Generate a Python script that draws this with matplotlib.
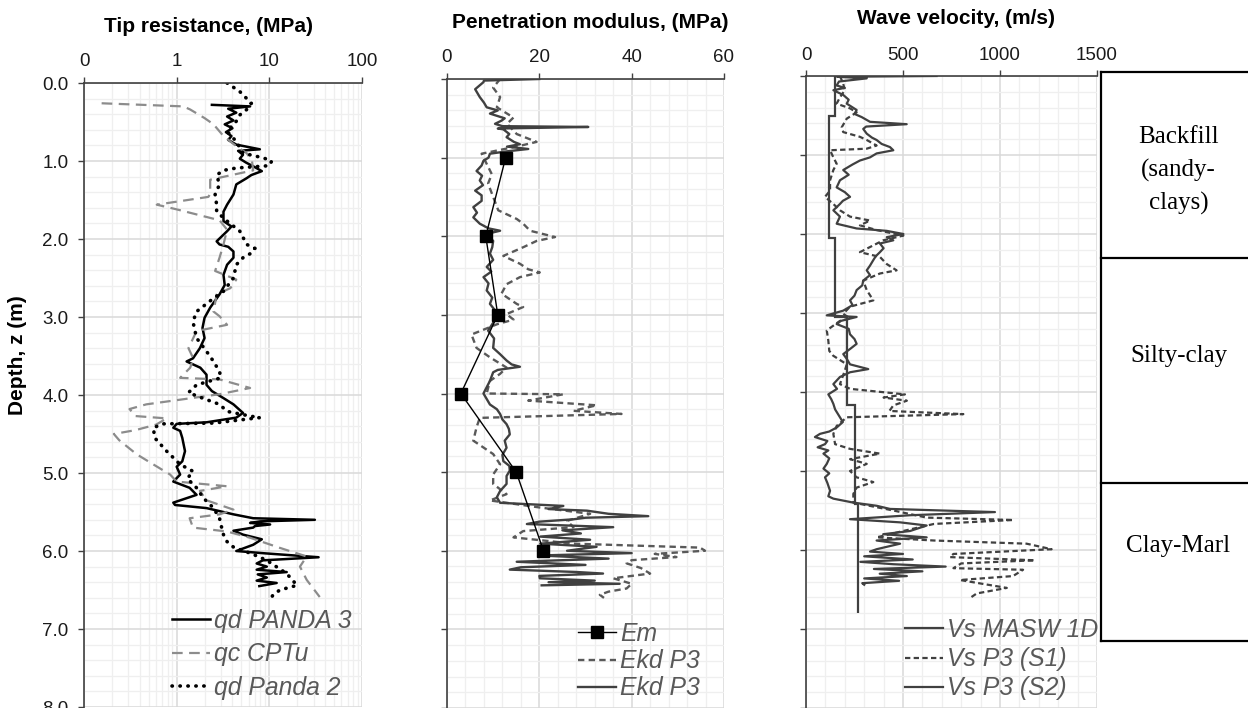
import numpy as np
import matplotlib
matplotlib.use('Agg')
import matplotlib.pyplot as plt
from matplotlib.ticker import MultipleLocator, NullFormatter

plt.rcParams['font.family'] = ['Liberation Sans', 'DejaVu Sans']

W, H = 1248, 708

# ---- Tip resistance (MPa), log scale ----
p3_z = [0.28, 0.30, 0.33, 0.38, 0.43, 0.48, 0.53, 0.58, 0.63, 0.68, 0.73, 0.79, 0.85, 0.87,
        0.92, 0.97, 1.02, 1.08, 1.13, 1.18, 1.22, 1.30, 1.43, 1.56, 1.65, 1.77, 1.84, 1.90,
        2.03, 2.07, 2.10, 2.16, 2.24, 2.33, 2.46, 2.59, 2.71, 2.88, 3.01, 3.14, 3.27, 3.40,
        3.53, 3.57, 3.65, 3.74, 3.87, 3.95, 4.04, 4.12, 4.23, 4.29, 4.35, 4.37, 4.42, 4.46,
        4.55, 4.72, 4.85, 4.92, 5.02, 5.11, 5.19, 5.28, 5.38, 5.41, 5.45, 5.53, 5.58, 5.60,
        5.62, 5.64, 5.66, 5.68, 5.70, 5.74, 5.79, 5.85, 5.92, 6.00, 6.03, 6.08, 6.12, 6.16,
        6.20, 6.24, 6.27, 6.30, 6.34, 6.38, 6.41, 6.45]
p3_qd = [2.4, 6.2, 3.6, 4.4, 3.5, 4.1, 3.3, 4.0, 3.4, 3.9, 3.6, 4.4, 7.9, 4.6,
         5.2, 4.8, 5.6, 7.0, 8.3, 6.4, 5.7, 4.4, 4.1, 3.5, 3.2, 3.2, 3.9, 3.5,
         2.7, 2.9, 3.6, 4.1, 4.1, 3.5, 3.2, 3.3, 2.9, 2.3, 2.0, 1.9, 2.0, 1.78,
         1.5, 1.28, 1.8, 2.1, 2.1, 2.4, 3.2, 4.1, 5.2, 4.4, 2.1, 1.0, 0.92, 1.09,
         1.15, 1.23, 1.15, 1.0, 1.09, 0.92, 1.38, 1.64, 0.92, 0.96, 2.1, 4.1, 6.7, 31.0,
         8.0, 6.2, 10.2, 7.0, 6.7, 4.1, 5.2, 8.3, 6.7, 4.4, 9.0, 34.0, 8.5, 7.3,
         9.4, 7.3, 15.4, 7.5, 9.4, 7.3, 12.0, 7.8]

cpt_z = [0.26, 0.30, 0.34, 0.45, 0.53, 0.68, 0.81, 0.90, 1.00, 1.12, 1.24, 1.42, 1.46, 1.56,
         1.62, 1.76, 1.88, 2.07, 2.24, 2.41, 2.52, 2.63, 2.71, 2.93, 2.99, 3.10, 3.18, 3.40,
         3.53, 3.65, 3.78, 3.80, 3.91, 3.99, 4.06, 4.12, 4.18, 4.27, 4.30, 4.38, 4.45, 4.50,
         4.58, 4.76, 4.89, 5.02, 5.11, 5.17, 5.23, 5.35, 5.47, 5.53, 5.58, 5.70, 5.75, 5.83,
         5.96, 6.07, 6.20, 6.37, 6.59]
cpt_qc = [0.155, 1.18, 1.40, 2.0, 2.5, 3.2, 4.4, 5.7, 6.5, 6.7, 2.3, 2.3, 2.2, 0.61,
          1.0, 2.9, 3.5, 3.2, 2.9, 2.6, 4.4, 3.8, 2.7, 2.5, 2.9, 3.5, 1.64, 1.34,
          1.51, 1.4, 1.09, 2.9, 6.2, 2.9, 1.09, 0.47, 0.31, 0.36, 0.78, 0.6, 0.36, 0.21,
          0.24, 0.37, 0.56, 0.85, 1.0, 3.5, 1.78, 2.1, 4.1, 2.9, 1.38, 1.5, 3.5, 6.2,
          13.0, 25.3, 21.4, 25.3, 35.0]

p2_z = [0.00, 0.11, 0.26, 0.34, 0.41, 0.49, 0.62, 0.75, 0.90, 0.96, 1.00, 1.06, 1.09, 1.12,
        1.18, 1.30, 1.43, 1.56, 1.65, 1.77, 1.90, 2.07, 2.12, 2.18, 2.24, 2.33, 2.50, 2.67,
        2.76, 2.93, 3.06, 3.14, 3.27, 3.44, 3.57, 3.70, 3.78, 3.87, 3.97, 4.04, 4.12, 4.21,
        4.27, 4.29, 4.36, 4.37, 4.42, 4.55, 4.72, 4.89, 4.98, 5.07, 5.19, 5.32, 5.45, 5.58,
        5.66, 5.79, 5.88, 5.95, 6.04, 6.12, 6.29, 6.44, 6.50, 6.56, 6.60]
p2_qd = [3.5, 4.8, 6.4, 5.7, 4.8, 4.4, 3.5, 4.4, 5.2, 8.6, 10.6, 10.0, 4.4, 3.2,
         2.7, 2.9, 2.6, 2.7, 2.7, 3.5, 4.8, 5.7, 7.0, 6.4, 5.2, 4.4, 4.1, 3.2,
         2.5, 1.64, 1.5, 1.55, 1.64, 2.1, 2.5, 2.9, 3.0, 1.64, 1.34, 1.9, 2.9, 3.5,
         6.2, 7.9, 2.5, 0.71, 0.56, 0.58, 0.78, 1.09, 1.51, 1.3, 1.64, 1.94, 2.5, 2.9,
         3.0, 3.2, 3.5, 4.1, 6.6, 9.4, 15.4, 19.9, 13.0, 11.0, 10.5]

# ---- Penetration modulus (MPa) ----
em_z = [1, 2, 3, 4, 5, 6]
em_val = [12.7, 8.4, 11.0, 3.0, 15.0, 20.9]

ekd_d_z = [0.00, 0.11, 0.23, 0.36, 0.49, 0.57, 0.70, 0.80, 0.85, 0.95, 1.08, 1.21, 1.33, 1.50,
           1.67, 1.78, 1.84, 1.93, 2.01, 2.06, 2.14, 2.25, 2.35, 2.42, 2.46, 2.52, 2.61, 2.73,
           2.86, 2.90, 2.99, 3.06, 3.12, 3.25, 3.42, 3.54, 3.67, 3.75, 3.84, 4.00, 4.01, 4.09,
           4.15, 4.22, 4.26, 4.31, 4.43, 4.60, 4.77, 4.90, 5.03, 5.15, 5.28, 5.36, 5.45, 5.53,
           5.62, 5.70, 5.75, 5.83, 5.91, 5.96, 6.00, 6.04, 6.08, 6.12, 6.16, 6.22, 6.29, 6.35,
           6.42, 6.48, 6.52, 6.56, 6.60]
ekd_d = [11.5, 10.0, 11.5, 10.8, 14.4, 13.0, 15.1, 19.4, 15.8, 7.5, 8.6, 9.7, 8.9, 10.0,
         11.1, 15.1, 16.5, 18.0, 23.4, 19.4, 16.5, 12.2, 15.8, 17.6, 20.1, 15.8, 12.9, 11.8,
         15.1, 16.5, 12.9, 14.4, 10.8, 5.3, 6.4, 9.3, 12.9, 11.5, 9.3, 8.6, 25.2, 17.6,
         32.4, 27.4, 37.8, 7.1, 6.4, 5.7, 10.0, 11.5, 10.0, 10.0, 12.9, 9.3, 20.1, 31.0,
         26.0, 27.4, 16.5, 14.4, 27.4, 54.8, 55.9, 45.0, 49.7, 40.0, 38.9, 42.0, 44.0, 36.0,
         40.0, 38.9, 35.0, 33.1, 34.0]

ekd_s_z = [0.00, 0.02, 0.04, 0.13, 0.23, 0.30, 0.36, 0.40, 0.44, 0.50, 0.53, 0.57, 0.60, 0.61,
           0.63, 0.64, 0.70, 0.74, 0.80, 0.83, 0.86, 0.89, 0.92, 0.95, 1.00, 1.04, 1.10, 1.17,
           1.23, 1.29, 1.35, 1.42, 1.48, 1.55, 1.63, 1.70, 1.76, 1.84, 1.90, 1.93, 1.97, 2.06,
           2.14, 2.22, 2.30, 2.39, 2.45, 2.52, 2.60, 2.69, 2.78, 2.86, 2.95, 3.03, 3.10, 3.20,
           3.30, 3.42, 3.50, 3.58, 3.63, 3.66, 3.70, 3.73, 3.84, 3.92, 4.00, 4.07, 4.14, 4.20,
           4.26, 4.33, 4.39, 4.45, 4.52, 4.60, 4.69, 4.78, 4.86, 4.92, 4.98, 5.05, 5.15, 5.24,
           5.32, 5.39, 5.43, 5.47, 5.49, 5.53, 5.56, 5.58, 5.60, 5.63, 5.66, 5.70, 5.74, 5.78,
           5.82, 5.86, 5.91, 5.95, 6.00, 6.03, 6.06, 6.10, 6.14, 6.18, 6.21, 6.24, 6.27, 6.29,
           6.32, 6.35, 6.38, 6.40, 6.42, 6.44]
ekd_s = [20.0, 8.0, 7.9, 6.1, 7.1, 8.0, 8.6, 11.0, 9.3, 12.5, 11.8, 10.4, 12.0, 30.6,
         11.0, 12.2, 13.5, 12.9, 14.5, 15.8, 13.0, 17.6, 13.0, 9.3, 9.0, 7.9, 7.5, 6.4,
         7.6, 7.1, 7.8, 6.1, 7.5, 7.5, 5.7, 6.5, 5.7, 7.1, 9.0, 11.5, 8.6, 10.0,
         9.8, 9.3, 10.0, 8.6, 9.6, 7.9, 9.0, 8.6, 9.8, 9.3, 10.5, 10.8, 10.0, 8.9,
         10.2, 10.0, 11.5, 12.9, 14.0, 15.8, 11.0, 10.0, 9.3, 8.6, 7.9, 8.6, 9.3, 10.8,
         11.5, 12.0, 12.9, 13.4, 13.6, 12.5, 12.9, 12.0, 12.2, 13.5, 13.6, 12.9, 12.9, 11.5,
         10.8, 11.5, 25.2, 22.0, 30.3, 35.0, 43.6, 30.0, 27.4, 20.0, 17.3, 36.0, 25.0, 29.0,
         20.2, 31.0, 20.2, 32.4, 26.0, 40.0, 20.0, 35.0, 15.1, 30.0, 16.0, 13.6, 28.0, 33.8,
         20.0, 20.1, 32.0, 22.0, 37.4, 20.5]

# ---- Wave velocity (m/s) ----
masw_edges = [0.0, 0.5, 2.05, 3.05, 4.17, 5.42, 6.8]
masw_vs = [150, 120, 150, 210, 250, 270]

s1_z = [0.00, 0.10, 0.18, 0.27, 0.35, 0.41, 0.46, 0.54, 0.65, 0.71, 0.77, 0.81, 0.88, 0.92,
        0.94, 1.03, 1.11, 1.19, 1.32, 1.45, 1.53, 1.62, 1.70, 1.78, 1.83, 1.89, 1.95, 2.02,
        2.08, 2.23, 2.29, 2.38, 2.46, 2.50, 2.59, 2.71, 2.84, 2.92, 3.01, 3.07, 3.10, 3.22,
        3.35, 3.48, 3.54, 3.65, 3.73, 3.90, 3.96, 4.03, 4.07, 4.11, 4.17, 4.24, 4.28, 4.32,
        4.43, 4.53, 4.66, 4.72, 4.78, 4.85, 4.91, 5.00, 5.08, 5.14, 5.21, 5.29, 5.40, 5.50,
        5.59, 5.62, 5.67, 5.76, 5.84, 5.88, 5.92, 5.99, 6.05, 6.09, 6.13, 6.17, 6.23, 6.25,
        6.33, 6.38, 6.48, 6.55, 6.60]
s1_vs = [175, 192, 200, 175, 158, 227, 261, 210, 184, 192, 278, 313, 364, 313,
         124, 141, 158, 141, 124, 124, 98, 141, 175, 227, 330, 278, 364, 502,
         398, 278, 381, 416, 467, 381, 295, 313, 347, 227, 192, 227, 175, 107,
         115, 120, 140, 210, 200, 175, 227, 510, 400, 520, 450, 430, 811, 210,
         158, 141, 150, 227, 381, 227, 313, 227, 261, 347, 261, 244, 244, 450,
         622, 1069, 660, 500, 364, 660, 1137, 1266, 760, 742, 1180, 800, 760, 1119,
         1067, 794, 1035, 880, 850]

s2_z = [0.00, 0.01, 0.03, 0.07, 0.12, 0.15, 0.18, 0.24, 0.30, 0.35, 0.43, 0.48, 0.52, 0.58,
        0.61, 0.64, 0.67, 0.73, 0.78, 0.81, 0.86, 0.90, 0.94, 0.98, 1.03, 1.07, 1.12, 1.19,
        1.25, 1.32, 1.41, 1.47, 1.53, 1.58, 1.62, 1.70, 1.78, 1.87, 1.93, 1.96, 2.00, 2.04,
        2.08, 2.12, 2.18, 2.23, 2.28, 2.33, 2.40, 2.46, 2.52, 2.59, 2.65, 2.71, 2.78, 2.84,
        2.90, 2.97, 3.03, 3.05, 3.10, 3.14, 3.20, 3.27, 3.33, 3.39, 3.45, 3.52, 3.58, 3.65,
        3.71, 3.75, 3.81, 3.90, 3.96, 4.03, 4.09, 4.15, 4.22, 4.32, 4.38, 4.45, 4.50, 4.53,
        4.57, 4.62, 4.66, 4.70, 4.74, 4.78, 4.84, 4.91, 4.97, 5.03, 5.08, 5.15, 5.25, 5.32,
        5.35, 5.40, 5.44, 5.48, 5.52, 5.56, 5.61, 5.65, 5.69, 5.76, 5.80, 5.84, 5.88, 5.92,
        5.99, 6.02, 6.05, 6.08, 6.12, 6.15, 6.18, 6.21, 6.24, 6.27, 6.30, 6.33, 6.36, 6.39,
        6.42, 6.44]
s2_vs = [673, 160, 313, 170, 158, 200, 141, 192, 220, 210, 261, 250, 287, 330,
         519, 310, 295, 313, 340, 364, 390, 433, 450, 364, 330, 278, 240, 192,
         220, 175, 158, 200, 227, 190, 175, 141, 175, 158, 261, 416, 502, 416,
         450, 381, 400, 381, 360, 347, 330, 313, 330, 295, 290, 261, 250, 227,
         240, 192, 107, 261, 180, 158, 220, 227, 250, 261, 230, 192, 210, 227,
         321, 227, 175, 141, 160, 115, 130, 141, 150, 175, 190, 158, 120, 72,
         46, 110, 98, 60, 115, 90, 120, 107, 90, 120, 98, 110, 124, 115,
         141, 244, 364, 433, 974, 536, 227, 485, 622, 536, 398, 622, 364, 485,
         364, 330, 500, 300, 550, 280, 450, 720, 350, 600, 380, 520, 300, 480,
         290, 300]

# ---- soil layers ----
layer_edges = [-0.05, 2.3, 5.15, 7.15]
layer_names = ['Backfill\n(sandy-\nclays)', 'Silty-clay', 'Clay-Marl']
layer_text_z = [1.2, 3.55, 5.95]


def box(l, t, r, b):
    return [l / W, 1 - b / H, (r - l) / W, (b - t) / H]


def style(ax):
    ax.set_ylim(8, 0)
    ax.yaxis.set_major_locator(MultipleLocator(1))
    ax.yaxis.set_minor_locator(MultipleLocator(0.2))
    ax.yaxis.set_major_formatter('{x:.1f}')
    ax.xaxis.tick_top()
    for s in ['right', 'bottom']:
        ax.spines[s].set_visible(False)
    for s in ['top', 'left']:
        ax.spines[s].set_color('#404040')
        ax.spines[s].set_linewidth(1.2)
    ax.grid(which='major', color='#d9d9d9', lw=1.1)
    ax.grid(which='minor', color='#efefef', lw=0.9)
    ax.set_axisbelow(True)
    ax.tick_params(which='major', direction='out', length=4, width=1,
                   color='#404040', labelsize=13.5, pad=5, labelcolor='#1a1a1a')
    ax.tick_params(which='minor', length=0)


fig = plt.figure(figsize=(W / 100, H / 100), dpi=100)

# panel 1
ax1 = fig.add_axes(box(84, 83, 362, 707))
style(ax1)
ax1.set_xscale('log')
ax1.set_xlim(0.1, 100)
ax1.set_xticks([0.1, 1, 10, 100])
ax1.set_xticklabels(['0', '1', '10', '100'])
ax1.xaxis.set_minor_formatter(NullFormatter())
ax1.yaxis.set_major_formatter('{x:.1f}')
ax1.tick_params(axis='y', pad=7)
ax1.plot(p3_qd, p3_z, color='black', lw=1.8, label='qd PANDA 3')
ax1.plot(cpt_qc, cpt_z, color='#8c8c8c', lw=1.6, dashes=(4.8, 2.9), label='qc CPTu')
ax1.plot(p2_qd, p2_z, color='black', lw=2.6, linestyle=(0, (0.1, 2.1)),
         dash_capstyle='round', label='qd Panda 2')

# panel 2
ax2 = fig.add_axes(box(447, 79, 724, 708))
style(ax2)
ax2.set_xlim(0, 60)
ax2.xaxis.set_major_locator(MultipleLocator(20))
ax2.xaxis.set_minor_locator(MultipleLocator(4))
ax2.tick_params(axis='y', labelleft=False)
ax2.plot(em_val, em_z, color='black', lw=1.0, marker='s', ms=8, label='Em', zorder=5)
ax2.plot(ekd_d, ekd_d_z, color='#595959', lw=1.7, dashes=(2.7, 1.8), label='Ekd P3')
ax2.plot(ekd_s, ekd_s_z, color='#404040', lw=1.7, label='Ekd P3')

# panel 3
ax3 = fig.add_axes(box(806, 76, 1097, 708))
style(ax3)
ax3.set_xlim(0, 1500)
ax3.xaxis.set_major_locator(MultipleLocator(500))
ax3.xaxis.set_minor_locator(MultipleLocator(100))
ax3.tick_params(axis='y', labelleft=False)
ax3.stairs(masw_vs, masw_edges, orientation='horizontal', baseline=None,
           color='#404040', lw=1.6, label='Vs MASW 1D')
ax3.plot(s1_vs, s1_z, color='#404040', lw=1.6, dashes=(2.4, 1.5), label='Vs P3 (S1)')
ax3.plot(s2_vs, s2_z, color='#404040', lw=1.6, label='Vs P3 (S2)')

# legends
leg_kw = dict(frameon=False, borderpad=0, borderaxespad=0, handlelength=1.54,
              handletextpad=0.16, prop={'style': 'italic', 'size': 17.8},
              labelcolor='#595959', bbox_transform=fig.transFigure, loc='upper left',
              numpoints=1)
ax1.legend(bbox_to_anchor=(172 / W, 1 - 609 / H), labelspacing=0.38, **leg_kw)
ax2.legend(bbox_to_anchor=(578 / W, 1 - 622 / H), labelspacing=0.13, **leg_kw)
ax3.legend(bbox_to_anchor=(905 / W, 1 - 618 / H), labelspacing=0.21, **leg_kw)

# titles
fig.text(208 / W, 1 - 27 / H, 'Tip resistance, (MPa)', ha='center', va='center',
         fontsize=15, fontweight='bold')
fig.text(590 / W, 1 - 23 / H, 'Penetration modulus, (MPa)', ha='center', va='center',
         fontsize=15, fontweight='bold')
fig.text(956 / W, 1 - 19 / H, 'Wave velocity, (m/s)', ha='center', va='center',
         fontsize=15, fontweight='bold')
fig.text(18 / W, 1 - 355 / H, 'Depth, z (m)', ha='center', va='center', rotation=90,
         fontsize=15, fontweight='bold')

# soil layer table
ax4 = fig.add_axes(box(1101, 76, 1256, 708))
ax4.set_ylim(8, 0)
ax4.set_xlim(0, 1)
ax4.axis('off')
ax4.plot([0, 0], [layer_edges[0], layer_edges[-1]], color='black', lw=1.6, clip_on=False)
for e in layer_edges:
    ax4.plot([0, 1], [e, e], color='black', lw=1.6, clip_on=False)
for name, z in zip(layer_names, layer_text_z):
    ax4.text(0.5, z, name, ha='center', va='center', fontsize=18,
             family='Liberation Serif', linespacing=1.6)

fig.savefig('out.png', dpi=100)
